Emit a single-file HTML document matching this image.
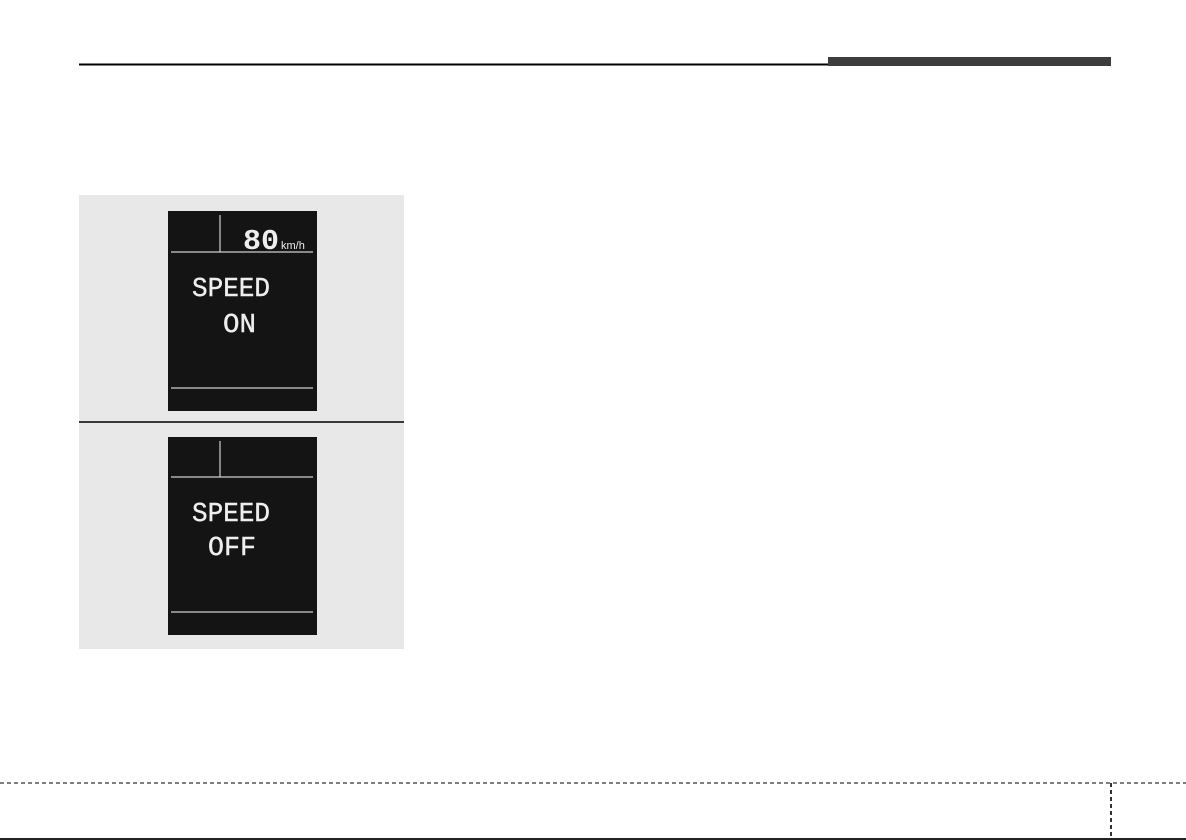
<!DOCTYPE html>
<html><head><style>
html,body{margin:0;padding:0;background:#fff;}
body{width:1186px;height:840px;position:relative;overflow:hidden;}
</style></head><body>
<svg width="1186" height="840" xmlns="http://www.w3.org/2000/svg" style="position:absolute;left:0;top:0">
<line x1="79" y1="64.5" x2="828" y2="64.5" stroke="#000" stroke-width="2"/>
<rect x="828" y="57" width="283" height="9" fill="#3d3d3d"/>
<rect x="79" y="195" width="325" height="454" fill="#e8e8e8"/>
<line x1="79" y1="422" x2="404" y2="422" stroke="#000" stroke-width="1.5"/>
<g>
<rect x="168" y="211" width="149" height="200" fill="#141414"/>
<line x1="171" y1="252" x2="313" y2="252" stroke="#cfcfcf" stroke-width="1.2"/>
<line x1="220" y1="215" x2="220" y2="252" stroke="#cfcfcf" stroke-width="1.2"/>
<line x1="171" y1="388" x2="313" y2="388" stroke="#cfcfcf" stroke-width="1.2"/>
<text x="243" y="249" font-family="Liberation Mono, monospace" font-size="29" font-weight="bold" fill="#eee" textLength="36" lengthAdjust="spacingAndGlyphs">80</text>
<text x="281" y="249" font-family="Liberation Sans, sans-serif" font-size="11" fill="#eee">km/h</text>
<text x="192" y="296" font-family="Liberation Mono, monospace" font-size="27" fill="#eee" stroke="#eee" stroke-width="0.4" textLength="78" lengthAdjust="spacingAndGlyphs">SPEED</text>
<text x="223" y="332" font-family="Liberation Mono, monospace" font-size="27" fill="#eee" stroke="#eee" stroke-width="0.4" textLength="33" lengthAdjust="spacingAndGlyphs">ON</text>
</g>
<g>
<rect x="168" y="437" width="149" height="198" fill="#141414"/>
<line x1="171" y1="477" x2="313" y2="477" stroke="#cfcfcf" stroke-width="1.2"/>
<line x1="220" y1="441" x2="220" y2="477" stroke="#cfcfcf" stroke-width="1.2"/>
<line x1="171" y1="612" x2="313" y2="612" stroke="#cfcfcf" stroke-width="1.2"/>
<text x="192" y="521" font-family="Liberation Mono, monospace" font-size="27" fill="#eee" stroke="#eee" stroke-width="0.4" textLength="78" lengthAdjust="spacingAndGlyphs">SPEED</text>
<text x="208" y="555" font-family="Liberation Mono, monospace" font-size="27" fill="#eee" stroke="#eee" stroke-width="0.4" textLength="48" lengthAdjust="spacingAndGlyphs">OFF</text>
</g>
<line x1="0" y1="783" x2="1186" y2="783" stroke="#333" stroke-width="1.2" stroke-dasharray="4,3"/>
<line x1="1111" y1="783" x2="1111" y2="840" stroke="#333" stroke-width="2" stroke-dasharray="4,3"/>
<rect x="0" y="838" width="1186" height="2" fill="#222"/>
</svg>
</body></html>
